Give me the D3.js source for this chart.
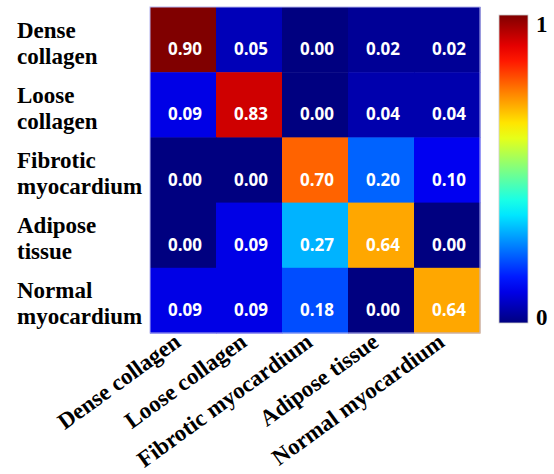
<!DOCTYPE html>
<html>
<head>
<meta charset="utf-8">
<script src="https://cdn.jsdelivr.net/npm/d3@7"></script>
<style>
  html, body { margin: 0; padding: 0; background: #fff; }
  svg { display: block; }
</style>
</head>
<body>
<div id="chart"></div>
<script>
/* ── Data ─────────────────────────────────────────────────────────────── */
const classes = ['Dense collagen', 'Loose collagen', 'Fibrotic myocardium', 'Adipose tissue', 'Normal myocardium'];
// row labels are split on two lines
const rowLines = [['Dense', 'collagen'], ['Loose', 'collagen'], ['Fibrotic', 'myocardium'], ['Adipose', 'tissue'], ['Normal', 'myocardium']];
const rowDense    = [0.90, 0.05, 0.00, 0.02, 0.02];
const rowLoose    = [0.09, 0.83, 0.00, 0.04, 0.04];
const rowFibrotic = [0.00, 0.00, 0.70, 0.20, 0.10];
const rowAdipose  = [0.00, 0.09, 0.27, 0.64, 0.00];
const rowNormal   = [0.09, 0.09, 0.18, 0.00, 0.64];
const matrix = [rowDense, rowLoose, rowFibrotic, rowAdipose, rowNormal];
const colorbarTicks = [0, 1];

/* ── Jet colormap ─────────────────────────────────────────────────────── */
function jet(t) {
  const c = v => Math.round(255 * Math.max(0, Math.min(1, v)));
  const r = 1.5 - Math.abs(4 * t - 3);
  const g = 1.5 - Math.abs(4 * t - 2);
  const b = 1.5 - Math.abs(4 * t - 1);
  return `rgb(${c(r)},${c(g)},${c(b)})`;
}

/* ── Layout ───────────────────────────────────────────────────────────── */
const W = 554, H = 474;
const serif = '"Liberation Serif", "Times New Roman", serif';
const sans = '"Open Sans", "Noto Sans", sans-serif';

const svg = d3.select('#chart').append('svg')
  .attr('width', W)
  .attr('height', H);

const x = d3.scaleBand().domain(d3.range(classes.length)).range([150, 480]);
const y = d3.scaleBand().domain(d3.range(classes.length)).range([7, 333]);

const maxVal = d3.max(matrix.flat());
const color = d3.scaleSequential(jet).domain([0, maxVal]);

const cells = [];
matrix.forEach((row, i) => row.forEach((v, j) => cells.push({ i, j, v })));

// Cells
svg.append('g')
  .selectAll('rect')
  .data(cells)
  .join('rect')
    .attr('x', d => x(d.j))
    .attr('y', d => y(d.i))
    .attr('width', x.bandwidth() + 0.5)
    .attr('height', y.bandwidth() + 0.5)
    .attr('fill', d => color(d.v));

// Frame
svg.append('rect')
  .attr('x', x.range()[0]).attr('y', y.range()[0])
  .attr('width', x.range()[1] - x.range()[0])
  .attr('height', y.range()[1] - y.range()[0])
  .attr('fill', 'none')
  .attr('stroke', '#b4b4f0')
  .attr('stroke-width', 1);

// Cell values
svg.append('g')
  .selectAll('text')
  .data(cells)
  .join('text')
    .attr('x', d => x(d.j) + x.bandwidth() / 2 + 2)
    .attr('y', d => y(d.i) + y.bandwidth() * 0.74)
    .attr('text-anchor', 'middle')
    .style('font-family', sans)
    .style('font-weight', 'bold')
    .style('font-size', '17px')
    .style('fill', '#fff')
    .text(d => d.v.toFixed(2));

// Row labels
const rowG = svg.append('g')
  .selectAll('text')
  .data(rowLines)
  .join('text')
    .attr('y', (d, i) => y(i) + y.bandwidth() / 2 - 2)
    .style('font-family', serif)
    .style('font-weight', 'bold')
    .style('font-size', '23px')
    .style('fill', '#000');
rowG.selectAll('tspan')
  .data(d => d)
  .join('tspan')
    .attr('x', 17)
    .attr('dy', (d, k) => k === 0 ? 0 : 26)
    .text(d => d);

// Column labels (rotated)
svg.append('g')
  .selectAll('text')
  .data(classes)
  .join('text')
    .attr('transform', (d, j) => `translate(${x(j) + x.bandwidth() / 2 - 1},345) rotate(-36)`)
    .attr('text-anchor', 'end')
    .style('font-family', serif)
    .style('font-weight', 'bold')
    .style('font-size', '23px')
    .style('fill', '#000')
    .text(d => d);

/* ── Colorbar ─────────────────────────────────────────────────────────── */
const cb = d3.scaleLinear().domain([0, 1]).range([323, 15]);
const defs = svg.append('defs');
const grad = defs.append('linearGradient')
  .attr('id', 'jetgrad')
  .attr('x1', 0).attr('y1', 1).attr('x2', 0).attr('y2', 0);
grad.selectAll('stop')
  .data(d3.range(0, 1.0001, 0.05))
  .join('stop')
    .attr('offset', d => d)
    .attr('stop-color', d => jet(d));

svg.append('rect')
  .attr('x', 499).attr('y', cb(1))
  .attr('width', 29).attr('height', cb(0) - cb(1))
  .attr('fill', 'url(#jetgrad)')
  .attr('stroke', '#ccc')
  .attr('stroke-width', 0.8);

svg.append('g')
  .selectAll('text')
  .data(colorbarTicks)
  .join('text')
    .attr('x', 536)
    .attr('y', d => d === 1 ? cb(d) + 17 : cb(d) + 2)
    .style('font-family', serif)
    .style('font-weight', 'bold')
    .style('font-size', '23px')
    .style('fill', '#000')
    .text(d => d);
</script>
</body>
</html>
